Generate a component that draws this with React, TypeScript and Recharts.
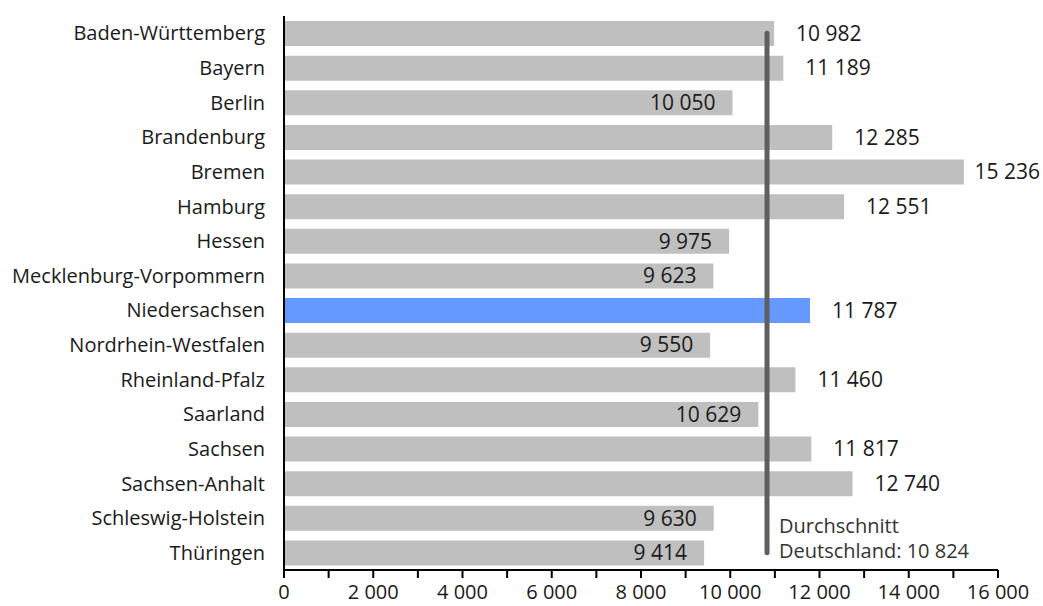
import React from "react";
import {
  BarChart,
  Bar,
  XAxis,
  YAxis,
  Cell,
  LabelList,
  ReferenceLine,
} from "recharts";

const states = [
  "Baden-Württemberg",
  "Bayern",
  "Berlin",
  "Brandenburg",
  "Bremen",
  "Hamburg",
  "Hessen",
  "Mecklenburg-Vorpommern",
  "Niedersachsen",
  "Nordrhein-Westfalen",
  "Rheinland-Pfalz",
  "Saarland",
  "Sachsen",
  "Sachsen-Anhalt",
  "Schleswig-Holstein",
  "Thüringen",
];

const values = [
  10982, 11189, 10050, 12285, 15236, 12551, 9975, 9623, 11787, 9550, 11460,
  10629, 11817, 12740, 9630, 9414,
];

const average = 10824;
const highlight = "Niedersachsen";
const xTicks = [
  0, 1000, 2000, 3000, 4000, 5000, 6000, 7000, 8000, 9000, 10000, 11000,
  12000, 13000, 14000, 15000, 16000,
];

const data = states.map((name, i) => ({ name, value: values[i] }));

const FONT = "'Open Sans', sans-serif";
const TEXT = "#1a1a1a";
const NUM_SIZE = 21;

const fmtNum = (v: number) =>
  String(v).replace(/\B(?=(\d{3})+(?!\d))/g, " ");

const ValueLabel = (props: any) => {
  const { x, y, width, height, value } = props;
  const inside = value < average;
  const cy = y + height / 2;
  const label = fmtNum(value);
  // rough width so the longest label stays inside the picture
  const estW = label.replace(/ /g, "").length * 0.572 * NUM_SIZE + 0.26 * NUM_SIZE;
  let tx = inside ? x + width - 17 : x + width + 22;
  if (!inside && tx + estW > 1040) tx = 1040 - estW;
  return (
    <text
      x={tx}
      y={cy}
      dy="0.35em"
      textAnchor={inside ? "end" : "start"}
      fontFamily={FONT}
      fontSize={NUM_SIZE}
      fill={TEXT}
    >
      {label}
    </text>
  );
};

const AvgLabel = (props: any) => {
  const vb = props.viewBox || {};
  const x = (vb.x ?? 0) + 12;
  const bottom = (vb.y ?? 0) + (vb.height ?? 0);
  return (
    <g fontFamily={FONT} fontSize={20} fill="#333">
      <text x={x} y={bottom - 20}>
        Durchschnitt
      </text>
      <text x={x} y={bottom + 5}>
        Deutschland: {fmtNum(average)}
      </text>
    </g>
  );
};

export default function App() {
  return (
    <div style={{ position: "absolute", left: 0, top: 0, background: "#fff" }}>
      <BarChart
        width={1043}
        height={606}
        data={data}
        layout="vertical"
        margin={{ top: 16, right: 45, left: 0, bottom: 6 }}
        barCategoryGap={0}
      >
        <XAxis
          type="number"
          domain={[0, 16000]}
          ticks={xTicks}
          interval={0}
          height={30}
          tickFormatter={(v: number) => (v % 2000 === 0 ? fmtNum(v) : "")}
          axisLine={{ stroke: "#000", strokeWidth: 2 }}
          tickLine={{ stroke: "#000", strokeWidth: 2 }}
          tickSize={8}
          tickMargin={7}
          tick={{ fontFamily: FONT, fontSize: 20, fill: TEXT }}
        />
        <YAxis
          type="category"
          dataKey="name"
          width={284}
          interval={0}
          axisLine={{ stroke: "#000", strokeWidth: 2 }}
          tickLine={false}
          tickSize={0}
          tickMargin={19}
          tick={{ fontFamily: FONT, fontSize: 20, fill: TEXT }}
        />
        <Bar dataKey="value" barSize={25} isAnimationActive={false}>
          {data.map((d) => (
            <Cell
              key={d.name}
              fill={d.name === highlight ? "#6699FF" : "#BFBFBF"}
            />
          ))}
          <LabelList dataKey="value" content={ValueLabel} />
        </Bar>
        <ReferenceLine
          segment={[
            { x: average, y: states[0] },
            { x: average, y: states[states.length - 1] },
          ]}
          stroke="#5f5f5f"
          strokeWidth={5}
          strokeLinecap="round"
          label={<AvgLabel />}
        />
      </BarChart>
    </div>
  );
}
